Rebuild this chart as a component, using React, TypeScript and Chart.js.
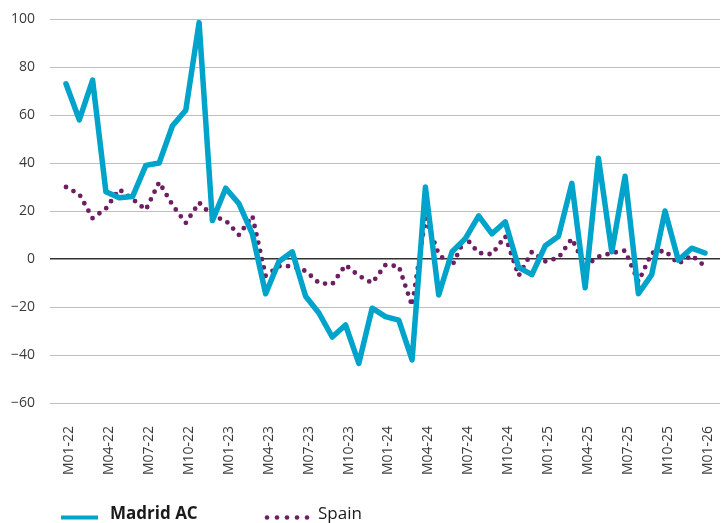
import React, { useEffect, useRef } from "react";
import { Chart, registerables } from "chart.js";

Chart.register(...registerables);

const categories = [
  "M01-22", "M02-22", "M03-22", "M04-22", "M05-22", "M06-22", "M07-22", "M08-22", "M09-22", "M10-22", "M11-22", "M12-22",
  "M01-23", "M02-23", "M03-23", "M04-23", "M05-23", "M06-23", "M07-23", "M08-23", "M09-23", "M10-23", "M11-23", "M12-23",
  "M01-24", "M02-24", "M03-24", "M04-24", "M05-24", "M06-24", "M07-24", "M08-24", "M09-24", "M10-24", "M11-24", "M12-24",
  "M01-25", "M02-25", "M03-25", "M04-25", "M05-25", "M06-25", "M07-25", "M08-25", "M09-25", "M10-25", "M11-25", "M12-25",
  "M01-26",
];

const tickLabels = [
  "M01-22", "M04-22", "M07-22", "M10-22",
  "M01-23", "M04-23", "M07-23", "M10-23",
  "M01-24", "M04-24", "M07-24", "M10-24",
  "M01-25", "M04-25", "M07-25", "M10-25",
  "M01-26",
];

const madridAC = [
  73, 58, 74.5, 28, 25.5, 26, 39, 40, 55.5, 62, 98.5, 16,
  29.5, 23, 10.5, -14.5, -1, 3, -15.5, -22.5, -32.5, -27.5, -43.5, -20.5,
  -24, -25.5, -42, 30, -15, 3, 8.5, 18, 10.5, 15.5, -3.5, -6.5,
  5.5, 9.5, 31.5, -12, 42, 3, 34.5, -14.5, -6.5, 20, -0.5, 4.5,
  2.5,
];

const spain = [
  30, 27, 17, 21, 29, 25, 20.5, 32, 22.5, 15, 23.5, 18,
  16, 10, 18, -7, -3, -3, -5, -10, -10.5, -2.5, -7, -10,
  -2.5, -3, -19.5, 17, 2, -3, 9, 2.5, 2, 9.5, -7, 3,
  -1, 0.5, 8.5, -3, 1, 2.5, 3.5, -9.5, 2.5, 3.5, -2, 1.5,
  -3,
];

const FONT = "'Open Sans', 'Noto Sans', 'DejaVu Sans', sans-serif";
const MADRID_COLOR = "#00A3C9";
const SPAIN_COLOR = "#6E1E62";
const TICK_COLOR = "#3a3a3a";

const bottomLegend = {
  id: "bottomLegend",
  afterDraw(chart: any) {
    const ctx = chart.ctx as CanvasRenderingContext2D;
    const ds = chart.data.datasets;
    const y = 517.5;
    ctx.save();
    ctx.strokeStyle = ds[0].borderColor;
    ctx.lineWidth = 4;
    ctx.lineCap = "butt";
    ctx.beginPath();
    ctx.moveTo(61, y);
    ctx.lineTo(98, y);
    ctx.stroke();
    ctx.textAlign = "left";
    ctx.textBaseline = "alphabetic";
    ctx.fillStyle = "#1a1a1a";
    ctx.font = `bold 17px ${FONT}`;
    ctx.fillText(ds[0].label, 110, 519);
    ctx.fillStyle = ds[1].borderColor;
    for (let k = 0; k < 5; k++) {
      ctx.beginPath();
      ctx.arc(267 + k * 10, y, 2.3, 0, Math.PI * 2);
      ctx.fill();
    }
    ctx.fillStyle = "#1a1a1a";
    ctx.font = `17px ${FONT}`;
    ctx.fillText(ds[1].label, 318, 519);
    ctx.restore();
  },
};

export default function App() {
  const canvasRef = useRef<HTMLCanvasElement | null>(null);

  useEffect(() => {
    if (!canvasRef.current) return;
    const chart = new Chart(canvasRef.current, {
      type: "line",
      data: {
        labels: categories,
        datasets: [
          {
            label: "Madrid AC",
            data: madridAC.map((v, i) => ({ x: i, y: v })),
            borderColor: MADRID_COLOR,
            backgroundColor: MADRID_COLOR,
            borderWidth: 5.5,
            borderJoinStyle: "round",
            borderCapStyle: "round",
            pointRadius: 0,
            tension: 0,
            fill: false,
          },
          {
            label: "Spain",
            data: spain.map((v, i) => ({ x: i, y: v })),
            borderColor: SPAIN_COLOR,
            backgroundColor: SPAIN_COLOR,
            borderWidth: 4.8,
            borderDash: [0, 8.5],
            borderCapStyle: "round",
            borderJoinStyle: "round",
            pointRadius: 0,
            tension: 0,
            fill: false,
          },
        ],
      },
      options: {
        responsive: false,
        animation: false,
        layout: { padding: { left: 8, right: 6, top: 19, bottom: 48 } },
        plugins: {
          legend: { display: false },
          tooltip: { enabled: false },
        },
        scales: {
          x: {
            type: "linear",
            min: -1.2,
            max: 49.13,
            grid: { display: false, drawTicks: false },
            border: { display: false },
            afterBuildTicks: (scale: any) => {
              scale.ticks = tickLabels.map((_, k) => ({ value: k * 3 }));
            },
            afterFit: (scale: any) => {
              scale.height = 72;
              scale.paddingLeft = 0;
              scale.paddingRight = 0;
              scale.paddingTop = 0;
              scale.paddingBottom = 0;
            },
            ticks: {
              autoSkip: false,
              minRotation: 90,
              maxRotation: 90,
              padding: 23,
              labelOffset: 3,
              color: TICK_COLOR,
              font: { family: FONT, size: 14 },
              callback: (value: any) => tickLabels[Math.round(Number(value) / 3)] ?? "",
            },
          },
          y: {
            min: -60,
            max: 100,
            border: { display: false },
            grid: {
              drawTicks: false,
              color: (c: any) => (c.tick && c.tick.value === 0 ? "#333333" : "#bfbfbf"),
              lineWidth: (c: any) => (c.tick && c.tick.value === 0 ? 1.5 : 1),
            },
            afterFit: (scale: any) => {
              scale.width = 42;
              scale.paddingTop = 0;
              scale.paddingBottom = 0;
              scale.paddingLeft = 0;
              scale.paddingRight = 0;
            },
            ticks: {
              stepSize: 20,
              padding: 15,
              color: TICK_COLOR,
              font: { family: FONT, size: 14 },
              callback: (v: any) => (Number(v) < 0 ? "\u2212" + Math.abs(Number(v)) : String(v)),
            },
          },
        },
      },
      plugins: [bottomLegend],
    });
    return () => chart.destroy();
  }, []);

  return (
    <div style={{ position: "absolute", left: 0, top: 0, width: 726, height: 523 }}>
      <canvas ref={canvasRef} width={726} height={523} style={{ display: "block", width: 726, height: 523 }} />
    </div>
  );
}
